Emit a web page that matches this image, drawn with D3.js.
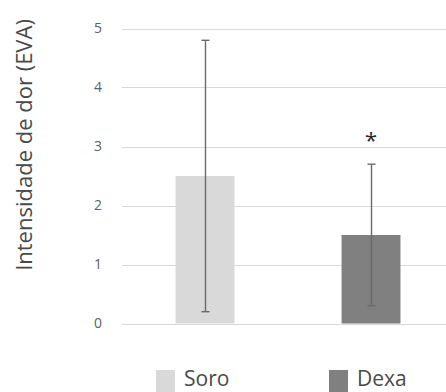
<!DOCTYPE html>
<html>
<head>
<meta charset="utf-8">
<script src="https://cdn.jsdelivr.net/npm/d3@7"></script>
<style>
  body { margin: 0; background: #fff; }
  svg { display: block; font-family: "Open Sans", sans-serif; }
</style>
</head>
<body>
<svg id="chart" width="446" height="392"></svg>
<script>
// data
var groups = ["Soro", "Dexa"];
var means = [2.5, 1.5];
var errLow = [0.2, 0.3];
var errHigh = [4.8, 2.7];
var marks = ["", "*"];
var colors = ["#d9d9d9", "#808080"];
var yTicks = [0, 1, 2, 3, 4, 5];

var svg = d3.select("#chart");

var x = d3.scaleBand()
    .domain(groups)
    .range([122, 454])
    .paddingInner(0.645)
    .paddingOuter(0.3225);

var y = d3.scaleLinear()
    .domain([0, 5])
    .range([323.5, 28.5]);

// gridlines
svg.append("g")
    .selectAll("line")
    .data(yTicks)
    .enter()
    .append("line")
      .attr("x1", 122)
      .attr("x2", 446)
      .attr("y1", function(d) { return Math.round(y(d)) + 0.5; })
      .attr("y2", function(d) { return Math.round(y(d)) + 0.5; })
      .attr("stroke", "#d9d9d9")
      .attr("stroke-width", 1);

// tick labels
var yAxis = svg.append("g")
    .attr("transform", "translate(104,0)")
    .call(d3.axisLeft(y).tickValues(yTicks).tickFormat(d3.format("d")).tickSize(0).tickPadding(0));
yAxis.select(".domain").remove();
yAxis.selectAll("text")
    .attr("text-anchor", "middle")
    .attr("dx", "-6")
    .style("font-family", "Open Sans, sans-serif")
    .style("font-size", "14px")
    .attr("fill", "#606060");

// bars
svg.append("g")
    .selectAll("rect")
    .data(groups)
    .enter()
    .append("rect")
      .attr("x", function(d) { return x(d); })
      .attr("y", function(d, i) { return y(means[i]); })
      .attr("width", x.bandwidth())
      .attr("height", function(d, i) { return y(0) - y(means[i]); })
      .attr("fill", function(d, i) { return colors[i]; });

// error bars
var eb = svg.append("g")
    .attr("stroke", "#6a6a6a")
    .attr("stroke-width", 1.4);
groups.forEach(function(g, i) {
  var cx = Math.round(x(g) + x.bandwidth() / 2) + 0.5;
  eb.append("line")
    .attr("x1", cx).attr("x2", cx)
    .attr("y1", y(errLow[i])).attr("y2", y(errHigh[i]));
  [errLow[i], errHigh[i]].forEach(function(v) {
    eb.append("line")
      .attr("x1", cx - 4).attr("x2", cx + 4)
      .attr("y1", y(v)).attr("y2", y(v));
  });
});

// significance marks
svg.append("g")
    .selectAll("text")
    .data(groups)
    .enter()
    .append("text")
      .attr("x", function(d) { return x(d) + x.bandwidth() / 2; })
      .attr("y", function(d, i) { return y(errHigh[i]) - 16; })
      .attr("text-anchor", "middle")
      .style("font-size", "22px")
      .attr("fill", "#262626")
      .text(function(d, i) { return marks[i]; });

// y label
svg.append("text")
    .attr("transform", "translate(32,145) rotate(-90)")
    .attr("text-anchor", "middle")
    .style("font-size", "22px")
    .attr("fill", "#4a4a4a")
    .text("Intensidade de dor (EVA)");

// legend
var legendX = [156, 329];
var legend = svg.append("g")
    .selectAll("g")
    .data(groups)
    .enter()
    .append("g")
      .attr("transform", function(d, i) { return "translate(" + legendX[i] + ",370)"; });
legend.append("rect")
    .attr("width", 19)
    .attr("height", 22)
    .attr("fill", function(d, i) { return colors[i]; });
legend.append("text")
    .attr("x", 28)
    .attr("y", 16)
    .style("font-size", "21px")
    .attr("fill", "#4a4a4a")
    .text(function(d) { return d; });
</script>
</body>
</html>
